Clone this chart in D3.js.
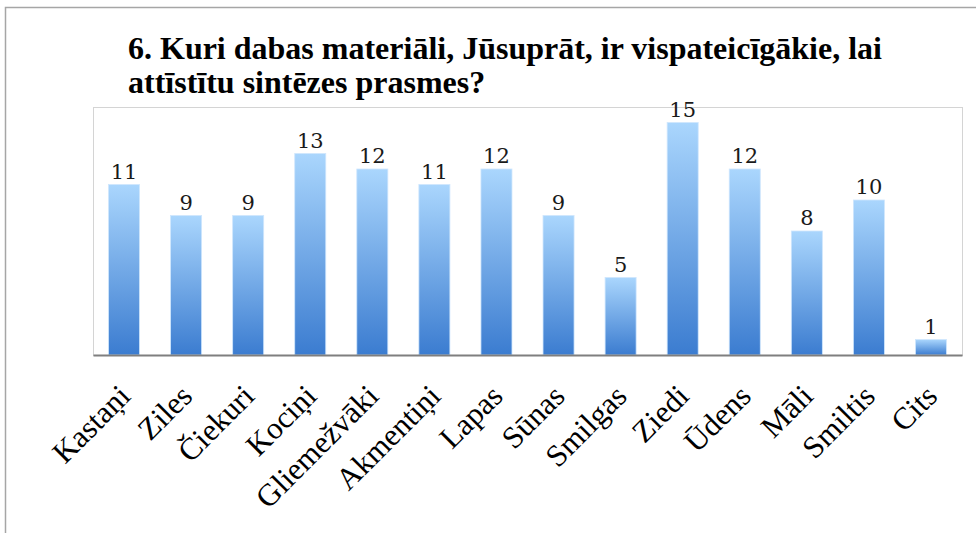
<!DOCTYPE html>
<html>
<head>
<meta charset="utf-8">
<script src="https://cdn.jsdelivr.net/npm/d3@7"></script>
<style>
  body { margin: 0; background: #fff; }
  svg { display: block; }
  .serif { font-family: "Liberation Serif", "Times New Roman", serif; }
</style>
</head>
<body>
<svg id="chart" width="976" height="533"></svg>
<script>
// question title, two lines as in the original
const titleLines = ["6. Kuri dabas materiāli, Jūsuprāt, ir vispateicīgākie, lai", "attīstītu sintēzes prasmes?"];
const categories = ["Kastaņi", "Ziles", "Čiekuri", "Kociņi", "Gliemežvāki", "Akmentiņi", "Lapas", "Sūnas", "Smilgas", "Ziedi", "Ūdens", "Māli", "Smiltis", "Cits"];
const counts = [11, 9, 9, 13, 12, 11, 12, 9, 5, 15, 12, 8, 10, 1];

const svg = d3.select("#chart");
const plot = {left: 93, right: 962, top: 107, bottom: 355};

// outer frame (only left and top edge visible)
svg.append("path")
    .attr("d", "M5.5,533 L5.5,7.5 L976,7.5")
    .attr("fill", "none")
    .attr("stroke", "#a6a6a6")
    .attr("stroke-width", 1.5);

// title, squeezed horizontally to the original width
let title = svg.append("g").attr("transform", "translate(128,0)");
title.selectAll("text")
    .data(titleLines)
    .enter()
    .append("text")
    .attr("class", "serif")
    .attr("y", (d, i) => 59 + i * 34)
    .attr("font-weight", "bold")
    .attr("font-size", 31)
    .attr("fill", "#000")
    .text(d => d);
let w0 = title.select("text").node().getComputedTextLength();
let sx = 754 / w0;
title.attr("transform", "translate(128,0) scale(" + sx + ",1)");

let x = d3.scaleBand()
    .domain(categories)
    .range([plot.left, plot.right])
    .paddingInner(0.5)
    .paddingOuter(0.25);

let y = d3.scaleLinear()
    .domain([0, 16])
    .range([plot.bottom, plot.top]);

// plot area box
svg.append("rect")
    .attr("x", plot.left + 0.5)
    .attr("y", plot.top + 0.5)
    .attr("width", plot.right - plot.left)
    .attr("height", plot.bottom - plot.top)
    .attr("fill", "none")
    .attr("stroke", "#d4d4d4")
    .attr("stroke-width", 1);

let defs = svg.append("defs");
let grad = defs.append("linearGradient")
    .attr("id", "barGrad")
    .attr("x1", 0).attr("y1", 0)
    .attr("x2", 0).attr("y2", 1);
grad.append("stop").attr("offset", "0%").attr("stop-color", "#aad6fd");
grad.append("stop").attr("offset", "100%").attr("stop-color", "#3b7cd0");

svg.append("g")
    .selectAll("rect")
    .data(counts)
    .enter()
    .append("rect")
    .attr("x", (d, i) => x(categories[i]))
    .attr("y", d => y(d))
    .attr("width", x.bandwidth())
    .attr("height", d => y(0) - y(d))
    .attr("fill", "url(#barGrad)")
    .attr("stroke", "#cfe6fd")
    .attr("stroke-width", 0.8);

// value labels
svg.append("g")
    .selectAll("text")
    .data(counts)
    .enter()
    .append("text")
    .attr("x", (d, i) => x(categories[i]) + x.bandwidth() / 2)
    .attr("y", d => y(d) - 6)
    .attr("text-anchor", "middle")
    .attr("font-family", "DejaVu Serif, serif")
    .attr("font-size", 21)
    .attr("fill", "#1a1a1a")
    .text(d => d);

// x axis line
let xAxis = d3.axisBottom(x).tickSize(0).tickFormat("");
let axisG = svg.append("g")
    .attr("transform", "translate(0," + plot.bottom + ")")
    .call(xAxis);
axisG.select(".domain")
    .attr("stroke", "#7f7f7f")
    .attr("stroke-width", 2);

// rotated category labels
svg.append("g")
    .selectAll("text")
    .data(categories)
    .enter()
    .append("text")
    .attr("class", "serif")
    .attr("transform", d => "translate(" + (x(d) + x.bandwidth() / 2 + 8) + ",398) rotate(-45)")
    .attr("text-anchor", "end")
    .attr("font-size", 31)
    .attr("fill", "#000")
    .text(d => d);
</script>
</body>
</html>
